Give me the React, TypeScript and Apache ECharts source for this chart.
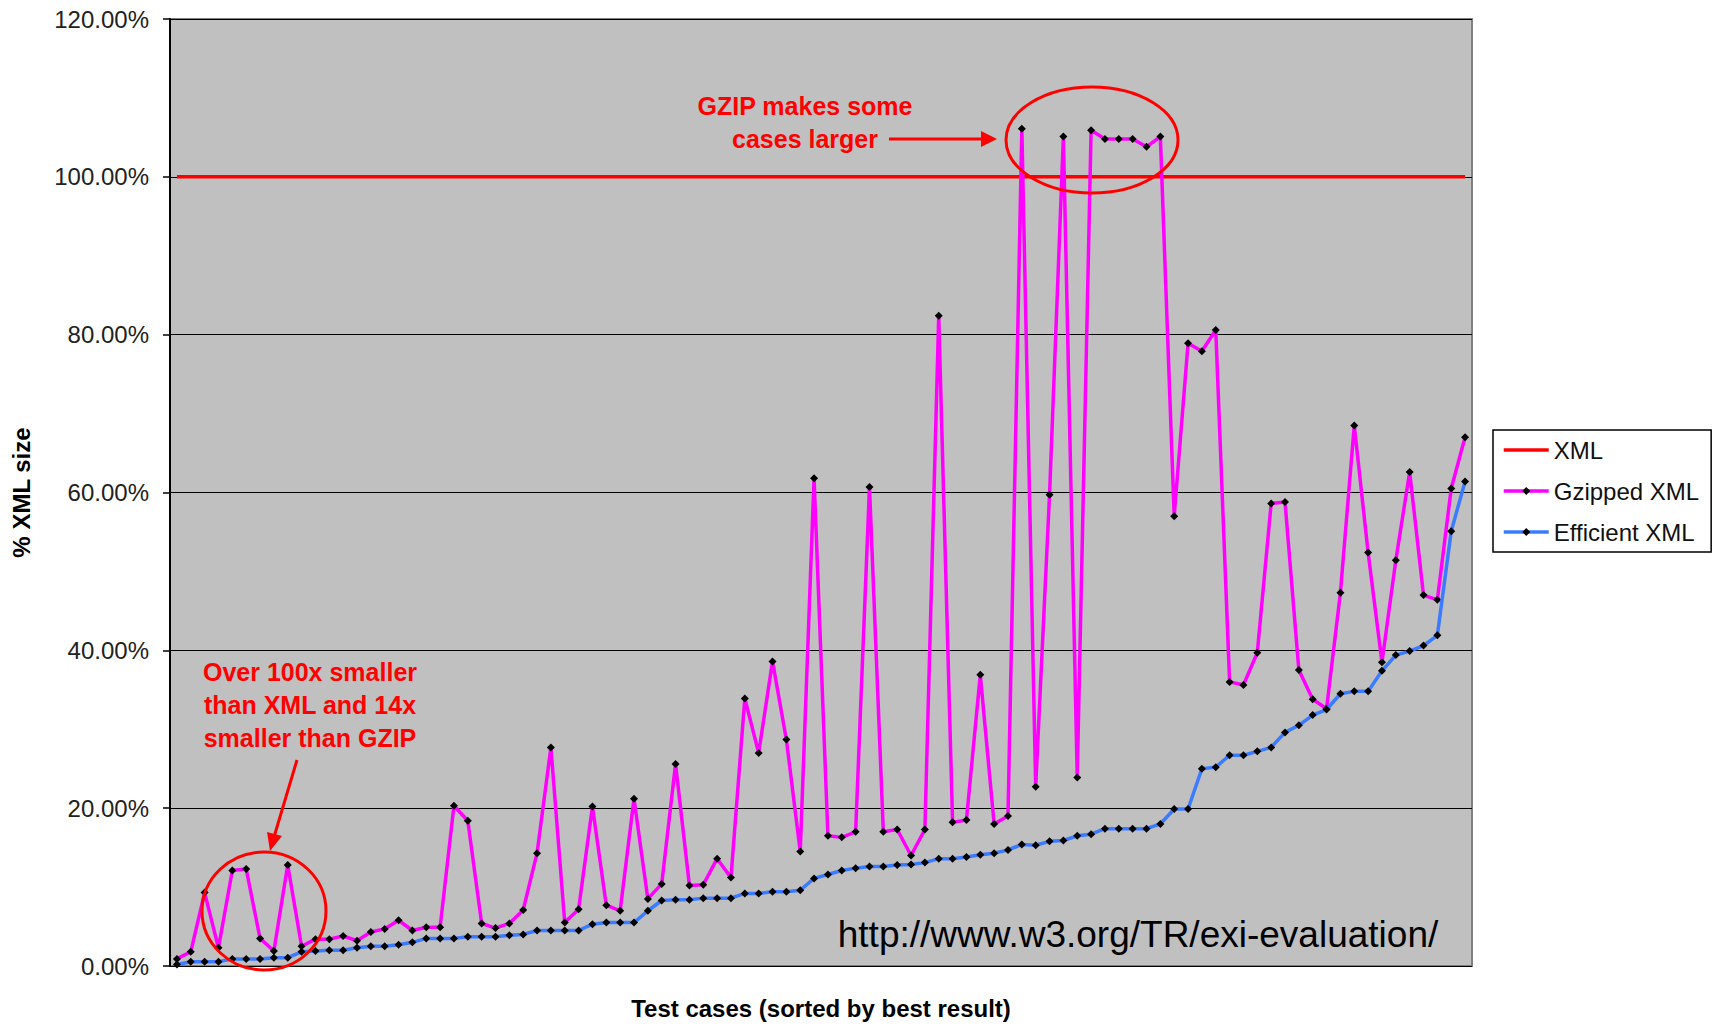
import React, { useEffect, useRef } from "react";
import * as echarts from "echarts";

// Values (percent of XML size), 94 test cases
const gzippedXml = [
  0.9, 1.8, 9.3, 2.3, 12.1, 12.3, 3.5, 1.9, 12.8, 2.5,
  3.4, 3.4, 3.8, 3.2, 4.3, 4.7, 5.8, 4.5, 4.9, 4.9,
  20.3, 18.4, 5.4, 4.8, 5.4, 7.1, 14.3, 27.7, 5.5, 7.2,
  20.2, 7.7, 7.0, 21.2, 8.5, 10.4, 25.6, 10.2, 10.3, 13.6,
  11.2, 33.9, 27.0, 38.6, 28.7, 14.5, 61.8, 16.5, 16.3, 17.0,
  60.7, 17.0, 17.3, 14.0, 17.3, 82.4, 18.2, 18.5, 36.9, 18.0,
  19.0, 106.1, 22.7, 59.7, 105.1, 23.9, 105.9, 104.8, 104.8, 104.8,
  103.8, 105.1, 57.0, 78.9, 77.9, 80.6, 36.0, 35.6, 39.7, 58.6,
  58.8, 37.5, 33.8, 32.6, 47.3, 68.5, 52.4, 38.5, 51.4, 62.6,
  47.0, 46.4, 60.5, 67.0,
];

const efficientXml = [
  0.2, 0.55, 0.55, 0.55, 0.9, 0.9, 0.9, 1.05, 1.05, 1.8,
  1.9, 2.0, 2.0, 2.3, 2.5, 2.5, 2.7, 3.0, 3.5, 3.5,
  3.5, 3.7, 3.7, 3.7, 3.9, 4.0, 4.5, 4.5, 4.5, 4.5,
  5.3, 5.5, 5.5, 5.5, 7.0, 8.3, 8.4, 8.4, 8.6, 8.6,
  8.6, 9.2, 9.2, 9.4, 9.4, 9.6, 11.1, 11.6, 12.1, 12.4,
  12.6, 12.6, 12.8, 12.85, 13.1, 13.6, 13.6, 13.8, 14.1, 14.3,
  14.7, 15.4, 15.3, 15.8, 15.9, 16.5, 16.7, 17.4, 17.4, 17.4,
  17.4, 18.0, 19.9, 19.9, 25.0, 25.2, 26.7, 26.7, 27.2, 27.7,
  29.6, 30.5, 31.8, 32.5, 34.5, 34.8, 34.8, 37.4, 39.4, 39.9,
  40.6, 41.9, 55.1, 61.4,
];

const xmlBaseline = [
  100, 100, 100, 100, 100, 100, 100, 100, 100, 100,
  100, 100, 100, 100, 100, 100, 100, 100, 100, 100,
  100, 100, 100, 100, 100, 100, 100, 100, 100, 100,
  100, 100, 100, 100, 100, 100, 100, 100, 100, 100,
  100, 100, 100, 100, 100, 100, 100, 100, 100, 100,
  100, 100, 100, 100, 100, 100, 100, 100, 100, 100,
  100, 100, 100, 100, 100, 100, 100, 100, 100, 100,
  100, 100, 100, 100, 100, 100, 100, 100, 100, 100,
  100, 100, 100, 100, 100, 100, 100, 100, 100, 100,
  100, 100, 100, 100,
];

const caseLabels = gzippedXml.map((_, i) => String(i + 1));

const seriesNames = ["XML", "Gzipped XML", "Efficient XML"];
const yMin = 0;
const yMax = 120;
const yStep = 20;

const FONT = "'Liberation Sans', Arial, Helvetica, sans-serif";

export default function App() {
  const ref = useRef<HTMLDivElement>(null);

  useEffect(() => {
    document.body.style.margin = "0";
    const chart = echarts.init(ref.current!, null, { renderer: "svg" });

    chart.setOption({
      animation: false,
      backgroundColor: "#ffffff",
      textStyle: { fontFamily: FONT },
      grid: {
        left: 170,
        top: 19,
        width: 1302,
        height: 948,
        show: true,
        backgroundColor: "#C0C0C0",
        borderColor: "#808080",
        borderWidth: 2,
      },
      legend: {
        orient: "vertical",
        left: 1493,
        top: 430,
        padding: [8, 12, 8, 9],
        itemGap: 17,
        itemWidth: 45,
        itemHeight: 10,
        backgroundColor: "#ffffff",
        borderColor: "#000000",
        borderWidth: 1.5,
        borderRadius: 0,
        lineStyle: { width: 3.5 },
        textStyle: { fontSize: 24, color: "#111", fontFamily: FONT },
        data: seriesNames,
      },
      xAxis: {
        type: "category",
        data: caseLabels,
        boundaryGap: true,
        axisLine: { show: false },
        axisTick: { show: false },
        axisLabel: { show: false },
        splitLine: { show: false },
        name: "Test cases (sorted by best result)",
        nameLocation: "middle",
        nameGap: 30,
        nameTextStyle: {
          fontSize: 24,
          fontWeight: "bold",
          color: "#000",
          fontFamily: FONT,
        },
      },
      yAxis: {
        type: "value",
        min: yMin,
        max: yMax,
        interval: yStep,
        axisLine: { show: true, lineStyle: { color: "#000", width: 2 } },
        axisTick: { show: true, length: 7, lineStyle: { color: "#000", width: 1.5 } },
        axisLabel: {
          formatter: (v: number) => `${v.toFixed(2)}%`,
          fontSize: 24,
          color: "#222",
          margin: 21,
          fontFamily: FONT,
        },
        splitLine: { show: true, lineStyle: { color: "#000", width: 1.2 } },
        name: "% XML size",
        nameLocation: "middle",
        nameGap: 137,
        nameTextStyle: {
          fontSize: 24,
          fontWeight: "bold",
          color: "#000",
          fontFamily: FONT,
        },
      },
      series: [
        {
          name: seriesNames[0],
          type: "line",
          data: xmlBaseline,
          symbol: "none",
          lineStyle: { color: "#FF0000", width: 3.5 },
          itemStyle: { color: "rgba(255,0,0,0)", borderColor: "rgba(255,0,0,0)" },
          z: 2,
        },
        {
          name: seriesNames[1],
          type: "line",
          data: gzippedXml,
          symbol: "diamond",
          symbolSize: 8,
          lineStyle: { color: "#FF00FF", width: 3.5 },
          itemStyle: { color: "#000000" },
          z: 3,
        },
        {
          name: seriesNames[2],
          type: "line",
          data: efficientXml,
          symbol: "diamond",
          symbolSize: 8,
          lineStyle: { color: "#3A7BFF", width: 3.5 },
          itemStyle: { color: "#000000" },
          z: 4,
        },
      ],
      graphic: [
        {
          type: "ellipse",
          shape: { cx: 1092, cy: 140, rx: 86, ry: 53 },
          style: { fill: "none", stroke: "#FF0000", lineWidth: 3 },
          z: 100,
        },
        {
          type: "ellipse",
          shape: { cx: 264, cy: 911, rx: 62, ry: 59 },
          style: { fill: "none", stroke: "#FF0000", lineWidth: 3 },
          z: 100,
        },
        {
          type: "line",
          shape: { x1: 889, y1: 139, x2: 984, y2: 139 },
          style: { stroke: "#FF0000", lineWidth: 3 },
          z: 100,
        },
        {
          type: "polygon",
          shape: { points: [[997, 139], [981, 131], [981, 147]] },
          style: { fill: "#FF0000" },
          z: 100,
        },
        {
          type: "line",
          shape: { x1: 297, y1: 760, x2: 274, y2: 837 },
          style: { stroke: "#FF0000", lineWidth: 3 },
          z: 100,
        },
        {
          type: "polygon",
          shape: { points: [[270, 851], [282, 836], [267, 832]] },
          style: { fill: "#FF0000" },
          z: 100,
        },
        {
          type: "text",
          x: 805,
          y: 122,
          style: {
            text: "GZIP makes some\ncases larger",
            fill: "#FF0000",
            font: `bold 25px ${FONT}`,
            lineHeight: 33,
            align: "center",
            verticalAlign: "middle",
          },
          z: 100,
        },
        {
          type: "text",
          x: 310,
          y: 705,
          style: {
            text: "Over 100x smaller\nthan XML and 14x\nsmaller than GZIP",
            fill: "#FF0000",
            font: `bold 25px ${FONT}`,
            lineHeight: 33,
            align: "center",
            verticalAlign: "middle",
          },
          z: 100,
        },
        {
          type: "text",
          x: 1138,
          y: 934,
          style: {
            text: "http://www.w3.org/TR/exi-evaluation/",
            fill: "#000000",
            font: `37px ${FONT}`,
            align: "center",
            verticalAlign: "middle",
          },
          z: 100,
        },
      ],
    });

    return () => chart.dispose();
  }, []);

  return <div ref={ref} style={{ width: 1717, height: 1025 }} />;
}
